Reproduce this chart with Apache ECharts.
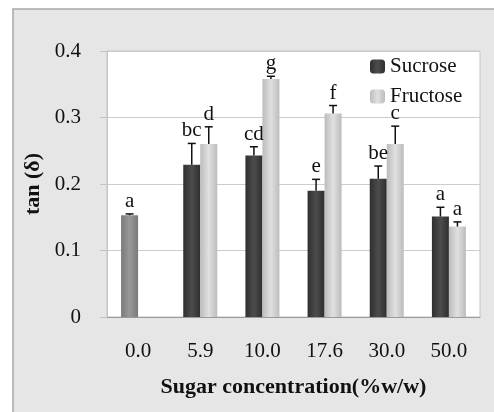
<!DOCTYPE html>
<html>
<head>
<meta charset="utf-8">
<script src="https://cdn.jsdelivr.net/npm/echarts@6/dist/echarts.min.js"></script>
<style>
html,body{margin:0;padding:0;background:#fff;}
#c{width:494px;height:412px;}
</style>
</head>
<body>
<div id="c"></div>
<script>
var categories = ['0.0', '5.9', '10.0', '17.6', '30.0', '50.0'];
var sucrose = [0.153, 0.229, 0.243, 0.190, 0.208, 0.151];
var sucroseErr = [0.002, 0.032, 0.013, 0.017, 0.019, 0.014];
var sucroseLetters = ['a', 'bc', 'cd', 'e', 'be', 'a'];
var fructose = [null, 0.260, 0.358, 0.306, 0.260, 0.136];
var fructoseErr = [null, 0.026, 0.004, 0.012, 0.027, 0.007];
var fructoseLetters = ['', 'd', 'g', 'f', 'c', 'a'];
var yTicks = ['0', '0.1', '0.2', '0.3', '0.4'];

var BAR = 17;
var FONT = '"Liberation Serif", "DejaVu Serif", serif';

function grad(edge, mid) {
  return new echarts.graphic.LinearGradient(0, 0, 1, 0, [
    {offset: 0, color: edge}, {offset: 0.5, color: mid}, {offset: 1, color: edge}
  ]);
}
var sucColor = grad('#2f2f2f', '#4c4c4c');
var fruColor = grad('#bcbcbc', '#e0e0e0');
var ctlColor = grad('#7a7a7a', '#989898');

var sucData = sucrose.map(function (v, i) {
  return i === 0 ? {value: v, itemStyle: {color: ctlColor}} : v;
});

function errSeries(values, errs, letters, sign) {
  var data = [];
  values.forEach(function (v, i) {
    if (v !== null && errs[i] !== null) data.push([i, v, errs[i], i]);
  });
  return {
    type: 'custom',
    data: data,
    z: 5,
    renderItem: function (params, api) {
      var idx = api.value(0), v = api.value(1), e = api.value(2), li = api.value(3);
      var b = api.coord([idx, v]);
      var t = api.coord([idx, v + e]);
      var x = b[0] + sign * BAR / 2;
      return {
        type: 'group',
        children: [
          {type: 'line', shape: {x1: x, y1: b[1], x2: x, y2: t[1]}, style: {stroke: '#111', lineWidth: 1.5}},
          {type: 'line', shape: {x1: x - 4, y1: t[1], x2: x + 4, y2: t[1]}, style: {stroke: '#111', lineWidth: 1.5}},
          {type: 'text', style: {text: letters[li], x: x, y: t[1] - 2, textAlign: 'center', textVerticalAlign: 'bottom', font: '21px ' + FONT, fill: '#111'}}
        ]
      };
    }
  };
}

var chart = echarts.init(document.getElementById('c'));
chart.setOption({
  animation: false,
  backgroundColor: '#ffffff',
  graphic: [{
    type: 'rect', z: -10,
    shape: {x: 13, y: 9, width: 520, height: 440},
    style: {fill: '#e6e6e6', stroke: '#a6a6a6', lineWidth: 1.5}
  }],
  grid: {left: 107, top: 51, right: 14, bottom: 95, show: true, backgroundColor: '#ffffff', borderColor: '#c4c4c4', borderWidth: 1},
  legend: {
    data: ['Sucrose', 'Fructose'],
    orient: 'vertical',
    left: 365, top: 51,
    itemWidth: 15, itemHeight: 14, itemGap: 9,
    textStyle: {fontFamily: FONT, fontSize: 21, color: '#111'}
  },
  xAxis: {
    type: 'category',
    data: categories,
    axisLine: {lineStyle: {color: '#9a9a9a', width: 1}},
    axisTick: {length: 7, lineStyle: {color: '#9a9a9a'}},
    axisLabel: {fontFamily: FONT, fontSize: 21, color: '#111', margin: 24},
    name: 'Sugar concentration(%w/w)',
    nameLocation: 'middle',
    nameGap: 59,
    nameTextStyle: {fontFamily: FONT, fontSize: 22, fontWeight: 'bold', color: '#111'}
  },
  yAxis: {
    type: 'value',
    min: 0, max: 0.4, interval: 0.1,
    axisLine: {show: true, lineStyle: {color: '#c4c4c4'}},
    axisTick: {show: true, length: 7, lineStyle: {color: '#c4c4c4'}},
    splitLine: {lineStyle: {color: '#cccccc'}},
    axisLabel: {
      fontFamily: FONT, fontSize: 21, color: '#111', margin: 26,
      formatter: function (v) { return yTicks[Math.round(v * 10)]; }
    },
    name: 'tan (δ)',
    nameLocation: 'middle',
    nameGap: 61,
    nameTextStyle: {fontFamily: FONT, fontSize: 22, fontWeight: 'bold', color: '#111'}
  },
  series: [
    {name: 'Sucrose', type: 'bar', data: sucData, barWidth: BAR, barGap: '0%', itemStyle: {color: sucColor}},
    {name: 'Fructose', type: 'bar', data: fructose, barWidth: BAR, barGap: '0%', itemStyle: {color: fruColor}},
    errSeries(sucrose, sucroseErr, sucroseLetters, -1),
    errSeries(fructose, fructoseErr, fructoseLetters, 1)
  ]
});
</script>
</body>
</html>
